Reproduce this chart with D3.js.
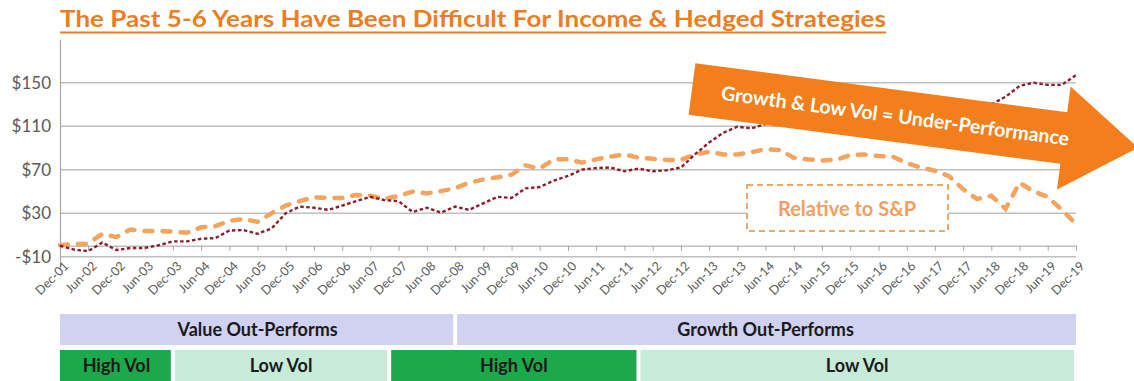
<!DOCTYPE html>
<meta charset="utf-8">
<script src="https://d3js.org/d3.v7.min.js"></script>
<style>
body { margin: 0; background: #fff; }
text { font-family: Lato, "Open Sans", sans-serif; }
</style>
<body>
<div id="canvas"></div>
<script>

// ---- data ----------------------------------------------------------
var titleText = "The Past 5-6 Years Have Been Difficult For Income & Hedged Strategies";
var firstMonth = new Date(2001, 11, 1);   // Dec-01
var lastMonth = new Date(2019, 11, 1);    // Dec-19

// quarterly readings, Dec-01 .. Dec-19
var growthValues = [0, -3.5, -5, 3, -4, -2, -2, 0.5, 4, 4, 6.5, 7, 14, 14.5, 11, 16,
    30, 36, 35, 33, 37, 41, 45, 42, 41, 31, 35, 30.5, 36, 33, 39, 45,
    44, 52.8, 54, 60, 64.2, 70, 71.5, 72, 68.5, 71, 68.5, 69.5, 72, 84, 95, 104,
    109.5, 108, 112, 114, 118, 116, 119, 114, 121, 124, 126, 128, 127, 130, 131, 132,
    134, 131, 130, 137, 147, 150, 148, 148, 157];
var relativeValues = [0.5, 1.5, 2, 11, 8, 15, 13.5, 13.5, 13, 12, 17, 18, 23, 24.6, 22, 30,
    37, 41, 44.6, 44, 44, 46.7, 46, 43, 46, 49.8, 48.2, 50.3, 53, 58, 61, 63,
    65.5, 74, 71, 79.5, 79.5, 76.5, 79.5, 82, 84, 81, 80, 79, 79, 84, 86.5, 84,
    84, 86, 89, 88, 81, 79.5, 78.5, 79, 83.5, 84, 82.5, 82, 76, 72, 69, 64,
    52, 43, 46, 34, 58, 50, 45, 33, 20];

var yTickValues = [-10, 30, 70, 110, 150];

var regimeNames = ["Value Out-Performs", "Growth Out-Performs"];
var regimeFrom = ["2001-12", "2008-12"];
var regimeTo = ["2008-12", "2019-12"];

var volNames = ["High Vol", "Low Vol", "High Vol", "Low Vol"];
var volFrom = ["2001-12", "2003-12", "2007-10", "2012-03"];
var volTo = ["2003-12", "2007-10", "2012-03", "2019-12"];

var arrowText = "Growth & Low Vol = Under-Performance";
var boxText = "Relative to S&P";

// ---- setup ---------------------------------------------------------
var width = 1134, height = 381;
var svg = d3.select("#canvas").append("svg")
    .attr("width", width).attr("height", height);

var parseMonth = d3.timeParse("%Y-%m");
var quarterDates = growthValues.map(function(d, i) { return d3.timeMonth.offset(firstMonth, 3 * i); });
var growth = growthValues.map(function(v, i) { return {date: quarterDates[i], v: v}; });
var relative = relativeValues.map(function(v, i) { return {date: quarterDates[i], v: v}; });

var x = d3.scaleTime().domain([firstMonth, lastMonth]).range([60, 1076]);
var y = d3.scaleLinear().domain([-21, 190]).range([268.6, 39.2]);

// title
svg.append("text")
    .attr("x", 60).attr("y", 27)
    .attr("textLength", 826).attr("lengthAdjust", "spacingAndGlyphs")
    .style("font-size", "22px").style("font-weight", "bold")
    .style("fill", "#EC7D22")
    .text(titleText);
svg.append("line")
    .attr("x1", 60).attr("x2", 886).attr("y1", 32.5).attr("y2", 32.5)
    .attr("stroke", "#EC7D22").attr("stroke-width", 2);

// gridlines
svg.append("g").selectAll("line")
    .data(yTickValues).enter().append("line")
    .attr("x1", 60).attr("x2", 1076)
    .attr("y1", function(d) { return y(d); })
    .attr("y2", function(d) { return y(d); })
    .attr("stroke", "#BFBFBF").attr("stroke-width", 1.5);

// y axis
var yAxis = d3.axisLeft(y).tickValues(yTickValues).tickSize(0).tickPadding(9)
    .tickFormat(function(d) { return (d < 0 ? "-$" : "$") + Math.abs(d); });
var gy = svg.append("g").attr("transform", "translate(60,0)").call(yAxis);
gy.select(".domain").attr("stroke", "#A6A6A6").attr("stroke-width", 1.2);
gy.selectAll("text").style("font-size", "17px").style("fill", "#595959")
    .style("font-family", "Lato, sans-serif");

// x axis at zero
var tickDates = d3.timeMonth.range(firstMonth, d3.timeMonth.offset(lastMonth, 1), 6);
var xAxis = d3.axisBottom(x).tickValues(tickDates).tickSize(5).tickSizeOuter(0)
    .tickFormat(d3.timeFormat("%b-%y"));
var gx = svg.append("g").attr("transform", "translate(0," + y(0) + ")").call(xAxis);
gx.select(".domain").attr("stroke", "#BFBFBF").attr("stroke-width", 1.5);
gx.selectAll(".tick line").attr("stroke", "#A6A6A6");
gx.selectAll("text")
    .style("font-size", "12.5px").style("fill", "#595959")
    .style("font-family", "Lato, sans-serif")
    .attr("text-anchor", "end")
    .attr("y", 0).attr("dy", 0)
    .attr("transform", "translate(9,21) rotate(-45)");

// lines
var line = d3.line()
    .x(function(d) { return x(d.date); })
    .y(function(d) { return y(d.v); });

svg.append("path").datum(relative)
    .attr("d", line).attr("fill", "none")
    .attr("stroke", "#F4A45E").attr("stroke-width", 4.5)
    .attr("stroke-linecap", "round")
    .attr("stroke-dasharray", "8 10");

svg.append("path").datum(growth)
    .attr("d", line).attr("fill", "none")
    .attr("stroke", "#8B1E2D").attr("stroke-width", 2.4)
    .attr("stroke-dasharray", "3.5 2.5");

// "Relative to S&P" box
svg.append("rect")
    .attr("x", 747).attr("y", 185).attr("width", 201).attr("height", 46)
    .attr("fill", "#fff").attr("stroke", "#F0A868").attr("stroke-width", 2)
    .attr("stroke-dasharray", "6 4");
svg.append("text")
    .attr("x", 847).attr("y", 209).attr("dy", "0.35em")
    .attr("text-anchor", "middle")
    .style("font-size", "20px").style("font-weight", "bold").style("fill", "#F0A060")
    .text(boxText);

// big arrow
var arrow = svg.append("g").attr("transform", "translate(692,89) rotate(7.5)");
arrow.append("path")
    .attr("d", "M0,-26 L375,-26 L375,-52 L450,0 L375,52 L375,26 L0,26 Z")
    .attr("fill", "#F27F1B");
arrow.append("text")
    .attr("x", 205).attr("y", 0).attr("dy", "0.36em")
    .attr("text-anchor", "middle")
    .style("font-size", "19.5px").style("font-weight", "bold").style("fill", "#fff")
    .text(arrowText);

// regime bands
var bandTop = svg.append("g");
bandTop.selectAll("rect").data(regimeNames).enter().append("rect")
    .attr("x", function(d, i) { return x(parseMonth(regimeFrom[i])) + (i ? 2 : 0); })
    .attr("width", function(d, i) { return x(parseMonth(regimeTo[i])) - x(parseMonth(regimeFrom[i])) - 2; })
    .attr("y", 314).attr("height", 31)
    .attr("fill", "#D1D1F2");
bandTop.selectAll("text").data(regimeNames).enter().append("text")
    .attr("x", function(d, i) { return (x(parseMonth(regimeFrom[i])) + x(parseMonth(regimeTo[i]))) / 2; })
    .attr("y", 330).attr("dy", "0.35em").attr("text-anchor", "middle")
    .style("font-size", "18px").style("font-weight", "bold").style("fill", "#1a1a1a")
    .text(function(d) { return d; });

var bandBot = svg.append("g");
bandBot.selectAll("rect").data(volNames).enter().append("rect")
    .attr("x", function(d, i) { return x(parseMonth(volFrom[i])) + (i ? 2 : 0); })
    .attr("width", function(d, i) { return x(parseMonth(volTo[i])) - x(parseMonth(volFrom[i])) - (i ? 4 : 2); })
    .attr("y", 350).attr("height", 31)
    .attr("fill", function(d) { return d == "High Vol" ? "#1DA84B" : "#C7EBD9"; });
bandBot.selectAll("text").data(volNames).enter().append("text")
    .attr("x", function(d, i) { return (x(parseMonth(volFrom[i])) + x(parseMonth(volTo[i]))) / 2; })
    .attr("y", 366).attr("dy", "0.35em").attr("text-anchor", "middle")
    .style("font-size", "18px").style("font-weight", "bold").style("fill", "#1a1a1a")
    .text(function(d) { return d; });

</script>
</body>
